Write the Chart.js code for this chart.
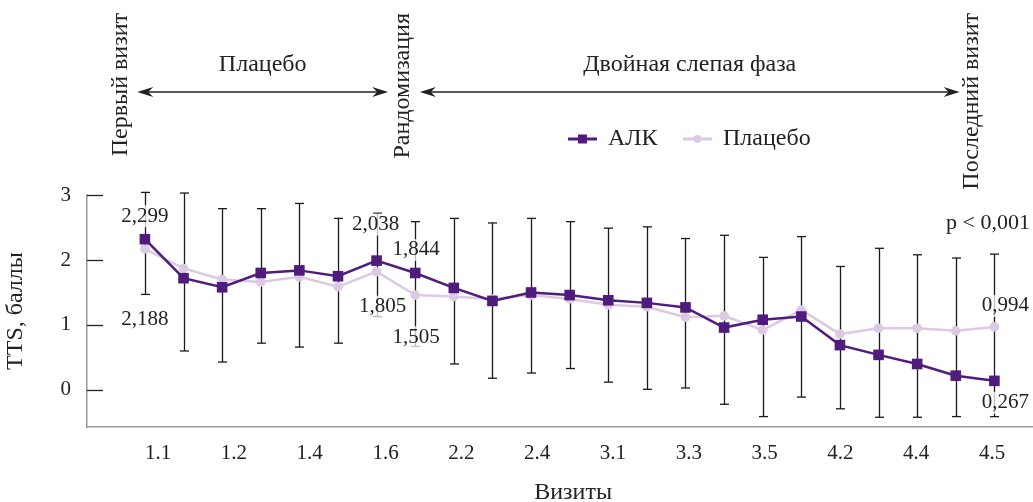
<!DOCTYPE html>
<html>
<head>
<meta charset="utf-8">
<script src="https://cdn.jsdelivr.net/npm/chart.js@4.4.1/dist/chart.umd.min.js"></script>
<style>
  html, body { margin: 0; padding: 0; background: #fff; }
  #wrap { width: 1033px; height: 502px; position: relative; }
</style>
</head>
<body>
<div id="wrap"><canvas id="tts-chart"></canvas></div>
<script>
// Data
var visitLabels = ['1.1', '1.2', '1.4', '1.6', '2.2', '2.4', '3.1', '3.3', '3.5', '4.2', '4.4', '4.5'];
var yTicks = [0, 1, 2, 3];

var alk = [2.32, 1.72, 1.58, 1.80, 1.84, 1.75, 1.99, 1.80, 1.57, 1.37, 1.50, 1.46,
           1.38, 1.34, 1.27, 0.96, 1.08, 1.13, 0.69, 0.54, 0.40, 0.22, 0.14];
var placebo = [2.17, 1.87, 1.70, 1.66, 1.74, 1.59, 1.82, 1.46, 1.44, 1.40, 1.46, 1.40,
               1.31, 1.28, 1.12, 1.14, 0.92, 1.23, 0.86, 0.95, 0.95, 0.91, 0.97];
var errHigh = [3.04, 3.03, 2.79, 2.79, 2.87, 2.64, 2.72, 2.59, 2.64, 2.57, 2.64, 2.59,
               2.49, 2.51, 2.33, 2.38, 2.04, 2.36, 1.90, 2.18, 2.08, 2.03, 2.09];
var errLow = [1.47, 0.60, 0.43, 0.72, 0.66, 0.72, 1.13, 0.67, 0.40, 0.18, 0.26, 0.33,
              0.12, 0.01, 0.03, -0.22, -0.41, -0.11, -0.29, -0.42, -0.42, -0.41, -0.41];

// value notes next to points: [dataset, point index, text]
var valueNotes = [
  [0, 0, '2,299'], [1, 0, '2,188'],
  [0, 6, '2,038'], [1, 6, '1,805'],
  [0, 7, '1,844'], [1, 7, '1,505'],
  [1, 22, '0,994'], [0, 22, '0,267']
];

var FONT = "'Liberation Serif', 'DejaVu Serif', serif";
var ALK_COLOR = '#4f1c7d';
var PLACEBO_COLOR = '#dcc9e3';
var TEXT_COLOR = '#222';

// offsets of the value notes, same order as valueNotes
var noteOffsets = [[0, -23], [0, 71], [-1, -36], [6, 35], [1, -23], [1, 42], [11, -21], [11, 22]];

function toPoints(arr) {
  return arr.map(function (v, i) { return { x: i, y: v }; });
}

function line(ctx, x1, y1, x2, y2) {
  ctx.beginPath();
  ctx.moveTo(x1, y1);
  ctx.lineTo(x2, y2);
  ctx.stroke();
}

// arrow head with its tip at (x, y); dir = 1 points right, -1 points left
function arrowHead(ctx, x, y, dir) {
  ctx.beginPath();
  ctx.moveTo(x, y);
  ctx.lineTo(x - dir * 16, y - 5);
  ctx.lineTo(x - dir * 11, y);
  ctx.lineTo(x - dir * 16, y + 5);
  ctx.closePath();
  ctx.fill();
}

var errorBars = {
  id: 'errorBars',
  beforeDatasetsDraw: function (chart) {
    var ctx = chart.ctx, xs = chart.scales.x, ys = chart.scales.y;
    ctx.save();
    ctx.strokeStyle = '#1a1a1a';
    ctx.lineWidth = 1.3;
    errHigh.forEach(function (hi, i) {
      var px = Math.round(xs.getPixelForValue(i)) + 0.5;
      var top = ys.getPixelForValue(hi);
      var bot = ys.getPixelForValue(errLow[i]);
      line(ctx, px, top, px, bot);
      line(ctx, px - 4.5, top, px + 4.5, top);
      line(ctx, px - 4.5, bot, px + 4.5, bot);
    });
    ctx.restore();
  },
  afterDatasetsDraw: function (chart) {
    var ctx = chart.ctx;
    ctx.save();
    ctx.font = '21px ' + FONT;
    ctx.textAlign = 'center';
    ctx.textBaseline = 'middle';
    valueNotes.forEach(function (n, k) {
      var pt = chart.getDatasetMeta(n[0]).data[n[1]];
      var cx = pt.x + noteOffsets[k][0];
      var cy = pt.y + noteOffsets[k][1];
      var w = ctx.measureText(n[2]).width;
      ctx.fillStyle = 'rgba(255,255,255,0.72)';
      ctx.fillRect(cx - w / 2 - 1, cy - 11, w + 2, 22);
      ctx.fillStyle = TEXT_COLOR;
      ctx.fillText(n[2], cx, cy);
    });
    ctx.restore();
  }
};

var annotations = {
  id: 'annotations',
  afterDraw: function (chart) {
    var ctx = chart.ctx, xs = chart.scales.x, ys = chart.scales.y, area = chart.chartArea;
    ctx.save();

    // inner tick marks on y axis
    ctx.strokeStyle = '#222';
    ctx.lineWidth = 1.3;
    ys.ticks.forEach(function (t) {
      var py = Math.round(ys.getPixelForValue(t.value)) + 0.5;
      line(ctx, area.left, py, area.left + 16, py);
    });

    ctx.fillStyle = TEXT_COLOR;
    ctx.font = '24px ' + FONT;

    // vertical markers
    var marks = [[-0.62, 'Первый визит'], [6.68, 'Рандомизация'], [21.42, 'Последний визит']];
    ctx.textAlign = 'right';
    ctx.textBaseline = 'middle';
    marks.forEach(function (m) {
      ctx.save();
      ctx.translate(xs.getPixelForValue(m[0]), 13);
      ctx.rotate(-Math.PI / 2);
      ctx.fillText(m[1], 0, 0);
      ctx.restore();
    });

    // phase arrows
    ctx.strokeStyle = '#222';
    ctx.lineWidth = 1.5;
    var ay = 92;
    var a1 = xs.getPixelForValue(-0.2), a2 = xs.getPixelForValue(6.3);
    var b1 = xs.getPixelForValue(7.12), b2 = xs.getPixelForValue(21.1);
    line(ctx, a1 + 11, ay, a2 - 11, ay);
    line(ctx, b1 + 11, ay, b2 - 11, ay);
    ctx.fillStyle = '#222';
    arrowHead(ctx, a1, ay, -1);
    arrowHead(ctx, a2, ay, 1);
    arrowHead(ctx, b1, ay, -1);
    arrowHead(ctx, b2, ay, 1);

    ctx.fillStyle = TEXT_COLOR;
    ctx.textAlign = 'center';
    ctx.fillText('Плацебо', (a1 + a2) / 2, 65);
    ctx.fillText('Двойная слепая фаза', (b1 + b2) / 2, 65);

    // legend
    var ly = 139;
    ctx.lineWidth = 3;
    ctx.strokeStyle = ALK_COLOR;
    line(ctx, 568, ly, 597, ly);
    ctx.fillStyle = ALK_COLOR;
    ctx.fillRect(578, ly - 4.5, 9, 9);
    ctx.strokeStyle = PLACEBO_COLOR;
    line(ctx, 683, ly, 712, ly);
    ctx.fillStyle = PLACEBO_COLOR;
    ctx.beginPath();
    ctx.arc(697.5, ly, 4, 0, Math.PI * 2);
    ctx.fill();
    ctx.fillStyle = TEXT_COLOR;
    ctx.textAlign = 'left';
    ctx.fillText('АЛК', 608, ly);
    ctx.fillText('Плацебо', 723, ly);

    // p value
    ctx.font = '22px ' + FONT;
    ctx.textAlign = 'right';
    ctx.fillText('p < 0,001', 1030, 223);

    // x axis title
    ctx.font = '24px ' + FONT;
    ctx.textAlign = 'center';
    ctx.textBaseline = 'alphabetic';
    ctx.fillText('Визиты', xs.getPixelForValue(11.09), 499);

    ctx.restore();
  }
};

var ctx = document.getElementById('tts-chart').getContext('2d');
var ttsChart = new Chart(ctx, {
  type: 'line',
  data: {
    datasets: [{
      label: 'АЛК',
      data: toPoints(alk),
      xAxisID: 'x',
      yAxisID: 'y',
      borderColor: ALK_COLOR,
      backgroundColor: ALK_COLOR,
      borderWidth: 2.5,
      pointStyle: 'rect',
      pointRadius: 7.5,
      pointBorderWidth: 0,
      tension: 0
    }, {
      label: 'Плацебо',
      data: toPoints(placebo),
      xAxisID: 'x',
      yAxisID: 'y',
      borderColor: PLACEBO_COLOR,
      backgroundColor: PLACEBO_COLOR,
      borderWidth: 2.5,
      pointStyle: 'circle',
      pointRadius: 4.8,
      pointBorderWidth: 0,
      tension: 0
    }]
  },
  options: {
    responsive: true,
    maintainAspectRatio: false,
    animation: false,
    layout: {
      autoPadding: false,
      padding: { top: 195, left: 0, right: 0, bottom: 0 }
    },
    scales: {
      x: {
        type: 'linear',
        display: false,
        min: -1.5,
        max: 23
      },
      xl: {
        type: 'linear',
        position: 'bottom',
        min: -0.937,
        max: 11.54,
        afterBuildTicks: function (axis) {
          axis.ticks = visitLabels.map(function (t, k) { return { value: k }; });
        },
        afterFit: function (axis) {
          axis.height = 75;
          axis.paddingLeft = 0;
          axis.paddingRight = 0;
        },
        border: { display: true, color: '#9a9a9a', width: 1.5 },
        grid: { display: true, drawOnChartArea: false, drawTicks: false },
        ticks: {
          padding: 14,
          autoSkip: false,
          maxRotation: 0,
          color: TEXT_COLOR,
          font: { family: FONT, size: 21 },
          callback: function (value, index) { return visitLabels[index]; }
        }
      },
      y: {
        min: -0.57,
        max: 3,
        afterBuildTicks: function (axis) {
          axis.ticks = yTicks.map(function (v) { return { value: v }; });
        },
        afterFit: function (axis) { axis.width = 87; },
        border: { display: true, color: '#9a9a9a', width: 1.5 },
        grid: { display: true, drawOnChartArea: false, drawTicks: false },
        ticks: {
          padding: 16,
          color: TEXT_COLOR,
          font: { family: FONT, size: 21 }
        },
        title: {
          display: true,
          text: 'TTS, баллы',
          color: TEXT_COLOR,
          font: { family: FONT, size: 24 },
          padding: { top: 1, bottom: 0 }
        }
      }
    },
    plugins: {
      legend: { display: false },
      tooltip: { enabled: false }
    }
  },
  plugins: [errorBars, annotations]
});
</script>
</body>
</html>
